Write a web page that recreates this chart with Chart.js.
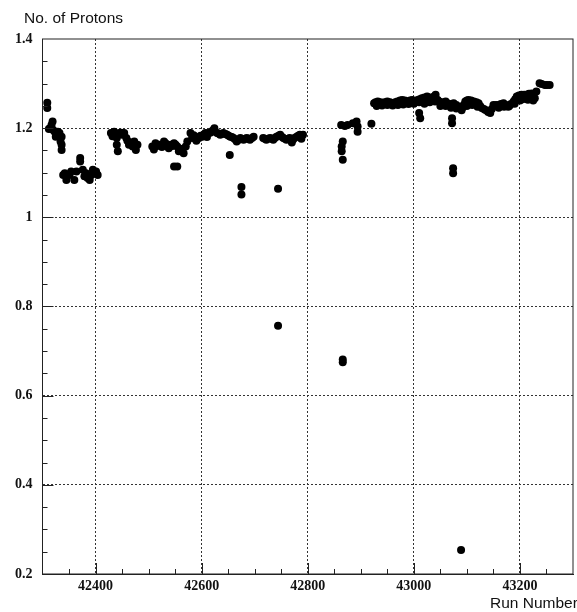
<!DOCTYPE html>
<html lang="en">
<head>
  <meta charset="UTF-8">
  <title>No. of Protons vs Run Number</title>
  <script src="https://cdn.jsdelivr.net/npm/chart.js"></script>
  <style>
    body { margin: 0; background: #fff; }
    canvas { display: block; }
  </style>
</head>
<body>
  <canvas id="protonChart" width="577" height="612"></canvas>
  <script>
    // run numbers and proton counts
    const runs = [
      42309, 42309, 42319, 42317, 42314, 42320, 42323, 42329, 42325, 42332, 42336, 42334, 42336, 42336, 42312, 42327,
      42339, 42345, 42342, 42351, 42354, 42360, 42364, 42371, 42371, 42376, 42382, 42385, 42392, 42395, 42401, 42404, 42389, 42379, 42398, 42386,
      42429, 42435, 42445, 42454, 42440, 42440, 42442, 42458, 42463, 42470, 42476, 42479, 42473, 42450, 42432,
      42438, 42448, 42466, 42460,
      42507, 42513, 42520, 42529, 42535, 42542, 42548, 42554, 42557, 42563, 42566, 42570, 42573, 42548, 42554, 42510, 42525, 42538,
      42516, 42532, 42545, 42551, 42560,
      42579, 42582, 42588, 42595, 42601, 42607, 42613, 42619, 42624, 42629, 42635, 42641, 42648, 42654, 42660, 42666, 42673, 42679, 42685, 42691, 42698, 42653, 42675, 42675, 42590, 42610,
      42585, 42598, 42604, 42616, 42621, 42632, 42638, 42645, 42651, 42657, 42663, 42670, 42682, 42688, 42695,
      42716, 42722, 42729, 42735, 42741, 42748, 42754, 42760, 42766, 42772, 42779, 42785, 42791, 42744, 42744, 42770, 42788,
      42719, 42725, 42732, 42738, 42745, 42751, 42757, 42763, 42775, 42782,
      42863, 42870, 42875, 42885, 42892, 42894, 42894, 42920, 42866, 42864, 42864, 42866, 42866, 42866,
      42925, 42932, 42941, 42950, 42960, 42969, 42978, 42988, 42997, 43003, 43007, 43015, 43025, 43035, 43041, 43045, 43054, 43060, 43066, 43075,
      43085, 43091, 43097, 43103, 43113, 43122, 43128, 43135, 43144, 43150, 43160, 43169, 43178, 43188, 43194, 43203, 43212, 43222, 43228, 43231,
      43237, 43247, 43256,
      42928, 42937, 42945, 42955, 42965, 42974, 42983, 42993, 43011, 43020, 43030, 43038, 43049, 43057, 43063, 43070, 43080, 43088, 43094, 43100,
      43108, 43118, 43125, 43132, 43140, 43147, 43155, 43164, 43174, 43183, 43191, 43198, 43208, 43217, 43241, 43251,
      42930, 42950, 42970, 42990, 43020, 43050, 43070, 43100, 43120, 43160, 43180, 43200, 43215, 43225,
      42940, 42960, 42980, 43000, 43010, 43030, 43040, 43060, 43080, 43090, 43110, 43140, 43170, 43190, 43205,
      43010, 43012, 43072, 43072, 43074, 43074, 43089
    ];
    const protons = [
      1.257, 1.245, 1.215, 1.207, 1.200, 1.196, 1.192, 1.192, 1.181, 1.189, 1.181, 1.170, 1.163, 1.151, 1.198, 1.185,
      1.095, 1.084, 1.099, 1.095, 1.103, 1.084, 1.103, 1.133, 1.125, 1.107, 1.099, 1.088, 1.095, 1.107, 1.103, 1.095, 1.084, 1.092, 1.099, 1.092,
      1.189, 1.192, 1.189, 1.189, 1.178, 1.163, 1.148, 1.178, 1.163, 1.159, 1.151, 1.163, 1.170, 1.185, 1.182,
      1.186, 1.190, 1.168, 1.172,
      1.159, 1.166, 1.163, 1.170, 1.163, 1.163, 1.166, 1.159, 1.148, 1.151, 1.144, 1.159, 1.170, 1.114, 1.114, 1.152, 1.158, 1.155,
      1.160, 1.166, 1.160, 1.163, 1.154,
      1.189, 1.178, 1.181, 1.178, 1.181, 1.189, 1.189, 1.192, 1.200, 1.189, 1.185, 1.189, 1.185, 1.181, 1.178, 1.170, 1.178, 1.174, 1.178, 1.174, 1.181, 1.140, 1.068, 1.051, 1.172, 1.180,
      1.184, 1.183, 1.185, 1.190, 1.195, 1.188, 1.187, 1.187, 1.183, 1.180, 1.175, 1.174, 1.176, 1.176, 1.178,
      1.178, 1.174, 1.178, 1.174, 1.181, 1.185, 1.178, 1.174, 1.178, 1.174, 1.181, 1.185, 1.185, 1.064, 0.757, 1.168, 1.176,
      1.176, 1.176, 1.176, 1.178, 1.183, 1.181, 1.176, 1.176, 1.178, 1.183,
      1.207, 1.205, 1.207, 1.211, 1.215, 1.204, 1.192, 1.210, 1.170, 1.159, 1.148, 1.129, 0.681, 0.675,
      1.256, 1.260, 1.256, 1.260, 1.256, 1.260, 1.263, 1.260, 1.263, 1.260, 1.263, 1.267, 1.271, 1.267, 1.275, 1.263, 1.256, 1.260, 1.252, 1.256,
      1.248, 1.245, 1.260, 1.263, 1.260, 1.256, 1.245, 1.241, 1.234, 1.252, 1.252, 1.256, 1.248, 1.260, 1.271, 1.275, 1.275, 1.278, 1.267, 1.282,
      1.301, 1.297, 1.297,
      1.258, 1.258, 1.258, 1.258, 1.258, 1.262, 1.262, 1.262, 1.265, 1.269, 1.269, 1.271, 1.259, 1.258, 1.256, 1.254, 1.252, 1.247, 1.252, 1.262,
      1.262, 1.258, 1.250, 1.243, 1.238, 1.243, 1.252, 1.254, 1.252, 1.254, 1.265, 1.273, 1.275, 1.277, 1.299, 1.297,
      1.250, 1.252, 1.252, 1.254, 1.255, 1.250, 1.246, 1.250, 1.248, 1.246, 1.250, 1.262, 1.264, 1.262,
      1.251, 1.251, 1.253, 1.255, 1.258, 1.258, 1.260, 1.250, 1.244, 1.240, 1.252, 1.236, 1.248, 1.255, 1.265,
      1.234, 1.222, 1.222, 1.211, 1.110, 1.099, 0.254
    ];

    // axis ticks
    const xTicks = [42400, 42600, 42800, 43000, 43200];
    const yTicks = [0.2, 0.4, 0.6, 0.8, 1.0, 1.2, 1.4];
    const yTickLabels = ['0.2', '0.4', '0.6', '0.8', '1', '1.2', '1.4'];

    const points = runs.map((r, i) => ({ x: r, y: protons[i] }));

    const tickFont = { family: 'Liberation Serif', size: 14, weight: 'bold' };

    // frame, inner ticks and axis titles
    const framePlugin = {
      id: 'framePlugin',
      afterDraw(chart) {
        const { ctx, chartArea: a, scales: { x, y } } = chart;
        ctx.save();
        ctx.strokeStyle = '#222';
        ctx.lineWidth = 1;
        ctx.strokeRect(a.left, a.top, a.right - a.left, a.bottom - a.top);

        ctx.beginPath();
        for (let v = 42350; v < 43300; v += 50) {
          const px = Math.round(x.getPixelForValue(v)) + 0.5;
          const len = v % 200 === 0 ? 11 : 5;
          ctx.moveTo(px, a.bottom);
          ctx.lineTo(px, a.bottom - len);
        }
        for (let k = 5; k < 28; k++) {
          const v = k * 0.05;
          const py = Math.round(y.getPixelForValue(v)) + 0.5;
          const len = k % 4 === 0 ? 11 : 5;
          ctx.moveTo(a.left, py);
          ctx.lineTo(a.left + len, py);
        }
        ctx.stroke();

        ctx.fillStyle = '#111';
        ctx.font = '15.5px "Liberation Sans"';
        ctx.textBaseline = 'alphabetic';
        ctx.textAlign = 'left';
        ctx.fillText('No. of Protons', 24, 23);
        ctx.textAlign = 'left';
        ctx.fillText('Run Number', 490, 608);
        ctx.restore();
      }
    };

    const gridColor = (c) => (c.tick.value <= 0.2 || c.tick.value >= 1.4) ? 'rgba(0,0,0,0)' : '#333';

    new Chart(document.getElementById('protonChart').getContext('2d'), {
      type: 'scatter',
      data: {
        datasets: [{
          label: 'No. of Protons',
          data: points,
          backgroundColor: '#000',
          borderColor: '#000',
          borderWidth: 0,
          pointRadius: 4,
          pointHoverRadius: 4
        }]
      },
      options: {
        responsive: false,
        animation: false,
        events: [],
        layout: { padding: { top: 39, right: 1, left: 0, bottom: 0 } },
        plugins: {
          legend: { display: false },
          tooltip: { enabled: false }
        },
        scales: {
          x: {
            type: 'linear',
            min: 42300,
            max: 43300,
            afterBuildTicks: (s) => { s.ticks = xTicks.map(v => ({ value: v })); },
            afterFit: (s) => { s.height = 38; },
            ticks: { color: '#111', font: tickFont, padding: 4, maxRotation: 0, callback: (v) => String(v) },
            grid: { color: '#333', lineWidth: 1, drawTicks: false },
            border: { color: '#222', width: 1, dash: [2, 2] }
          },
          y: {
            type: 'linear',
            min: 0.2,
            max: 1.4,
            afterBuildTicks: (s) => { s.ticks = yTicks.map(v => ({ value: v })); },
            afterFit: (s) => { s.width = 42.5; },
            ticks: { color: '#111', font: tickFont, padding: 10, callback: (v, i) => yTickLabels[i] },
            grid: { color: gridColor, lineWidth: 1, drawTicks: false },
            border: { color: '#222', width: 1, dash: [2, 2] }
          }
        }
      },
      plugins: [framePlugin]
    });
  </script>
</body>
</html>
